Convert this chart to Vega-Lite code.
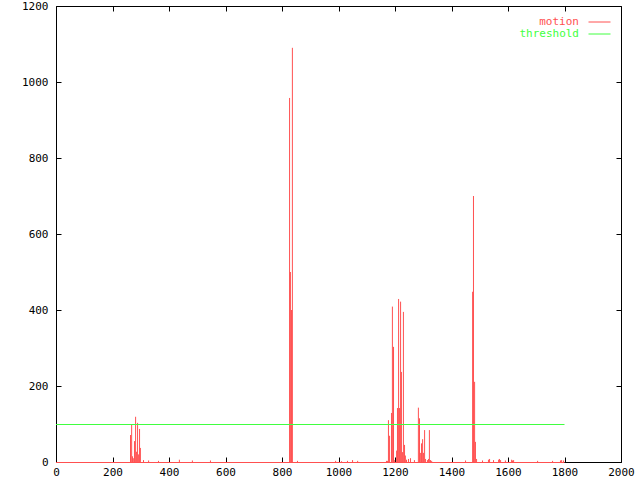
{
  "$schema": "https://vega.github.io/schema/vega-lite/v6.json",
  "width": 565,
  "height": 456,
  "autosize": {"type": "none"},
  "padding": {"left": 56, "top": 6, "right": 19, "bottom": 18},
  "background": "white",
  "config": {
    "view": {"stroke": null},
    "axis": {
      "domainColor": "black", "tickColor": "black", "labelColor": "black",
      "labelFont": "DejaVu Sans Mono", "labelFontSize": 11, "grid": false,
      "title": null, "tickSize": -5, "labelFlush": false, "labelOverlap": false,
      "format": "d"
    }
  },
  "datasets": {
    "motion": [
      {"frame": 262, "motion": 71}, {"frame": 266, "motion": 99}, {"frame": 269, "motion": 15},
      {"frame": 272, "motion": 10}, {"frame": 276, "motion": 55}, {"frame": 280, "motion": 119},
      {"frame": 283, "motion": 27}, {"frame": 287, "motion": 103}, {"frame": 290, "motion": 20},
      {"frame": 294, "motion": 87}, {"frame": 297, "motion": 37},
      {"frame": 308, "motion": 5}, {"frame": 326, "motion": 4}, {"frame": 361, "motion": 3},
      {"frame": 435, "motion": 6}, {"frame": 481, "motion": 4}, {"frame": 545, "motion": 4},
      {"frame": 825, "motion": 958}, {"frame": 828, "motion": 500}, {"frame": 832, "motion": 400},
      {"frame": 835, "motion": 1090}, {"frame": 853, "motion": 3},
      {"frame": 988, "motion": 3}, {"frame": 1009, "motion": 2}, {"frame": 1030, "motion": 3},
      {"frame": 1048, "motion": 5}, {"frame": 1066, "motion": 3}, {"frame": 1172, "motion": 3},
      {"frame": 1168, "motion": 3}, {"frame": 1175, "motion": 110}, {"frame": 1179, "motion": 69},
      {"frame": 1186, "motion": 129}, {"frame": 1189, "motion": 409}, {"frame": 1193, "motion": 303},
      {"frame": 1197, "motion": 5}, {"frame": 1204, "motion": 30}, {"frame": 1207, "motion": 142},
      {"frame": 1211, "motion": 429}, {"frame": 1214, "motion": 142}, {"frame": 1218, "motion": 422},
      {"frame": 1221, "motion": 237}, {"frame": 1225, "motion": 26}, {"frame": 1228, "motion": 395},
      {"frame": 1232, "motion": 45}, {"frame": 1235, "motion": 17}, {"frame": 1239, "motion": 6},
      {"frame": 1246, "motion": 8}, {"frame": 1253, "motion": 10}, {"frame": 1267, "motion": 5},
      {"frame": 1281, "motion": 143}, {"frame": 1285, "motion": 115}, {"frame": 1289, "motion": 24},
      {"frame": 1292, "motion": 49}, {"frame": 1296, "motion": 60}, {"frame": 1299, "motion": 24},
      {"frame": 1303, "motion": 84}, {"frame": 1306, "motion": 8}, {"frame": 1313, "motion": 5},
      {"frame": 1317, "motion": 8}, {"frame": 1320, "motion": 84}, {"frame": 1324, "motion": 5},
      {"frame": 1328, "motion": 3},
      {"frame": 1448, "motion": 4}, {"frame": 1473, "motion": 448}, {"frame": 1476, "motion": 700},
      {"frame": 1480, "motion": 211}, {"frame": 1483, "motion": 53}, {"frame": 1487, "motion": 8},
      {"frame": 1508, "motion": 4}, {"frame": 1529, "motion": 6}, {"frame": 1533, "motion": 8},
      {"frame": 1547, "motion": 5}, {"frame": 1565, "motion": 6}, {"frame": 1568, "motion": 8},
      {"frame": 1572, "motion": 5}, {"frame": 1589, "motion": 4}, {"frame": 1611, "motion": 6},
      {"frame": 1614, "motion": 4}, {"frame": 1618, "motion": 5}, {"frame": 1703, "motion": 3},
      {"frame": 1756, "motion": 3}, {"frame": 1784, "motion": 4}, {"frame": 1788, "motion": 5},
      {"frame": 1795, "motion": 4}
    ],
    "threshold": [
      {"frame": 0, "threshold": 100}, {"frame": 1800, "threshold": 100}
    ],
    "span": [
      {"start": 0, "end": 1800, "motion": 0}
    ]
  },
  "resolve": {"axis": {"x": "independent", "y": "independent"}},
  "layer": [
    {
      "data": {"name": "motion"},
      "mark": {"type": "rule", "strokeWidth": 1, "xOffset": 0.5},
      "encoding": {
        "x": {"field": "frame", "type": "quantitative",
              "scale": {"domain": [0, 2000], "nice": false, "zero": false},
              "axis": {"orient": "bottom", "values": [0,200,400,600,800,1000,1200,1400,1600,1800,2000], "labelPadding": 9}},
        "y": {"field": "motion", "type": "quantitative",
              "scale": {"domain": [0, 1200], "nice": false},
              "axis": {"orient": "left", "values": [0,200,400,600,800,1000,1200], "labelPadding": 13}},
        "y2": {"datum": 0},
        "color": {"datum": "motion", "type": "nominal",
                  "scale": {"domain": ["motion", "threshold"], "range": ["#ff5050", "#40ff40"]},
                  "legend": {
                    "orient": "none", "legendX": 538, "legendY": 10.5,
                    "title": null, "symbolType": "M-11,0H11", "symbolSize": 4,
                    "symbolStrokeWidth": 1, "labelFont": "DejaVu Sans Mono", "labelFontSize": 11,
                    "labelAlign": "right", "labelOffset": -26, "rowPadding": 0,
                    "encode": {"labels": {"update": {"fill": {"signal": "datum.value === 'motion' ? '#ff5050' : '#40ff40'"}}}}
                  }}
      }
    },
    {
      "data": {"name": "span"},
      "mark": {"type": "rule", "strokeWidth": 1, "yOffset": 0.5},
      "encoding": {
        "x": {"field": "start", "type": "quantitative",
              "axis": {"orient": "top", "labels": false, "values": [0,200,400,600,800,1000,1200,1400,1600,1800,2000]}},
        "x2": {"field": "end"},
        "y": {"field": "motion", "type": "quantitative",
              "axis": {"orient": "right", "labels": false, "values": [0,200,400,600,800,1000,1200]}},
        "color": {"datum": "motion", "type": "nominal"}
      }
    },
    {
      "data": {"name": "threshold"},
      "mark": {"type": "line", "strokeWidth": 1, "yOffset": 0.5},
      "encoding": {
        "x": {"field": "frame", "type": "quantitative", "axis": null},
        "y": {"field": "threshold", "type": "quantitative", "axis": null},
        "color": {"datum": "threshold", "type": "nominal"}
      }
    }
  ]
}
